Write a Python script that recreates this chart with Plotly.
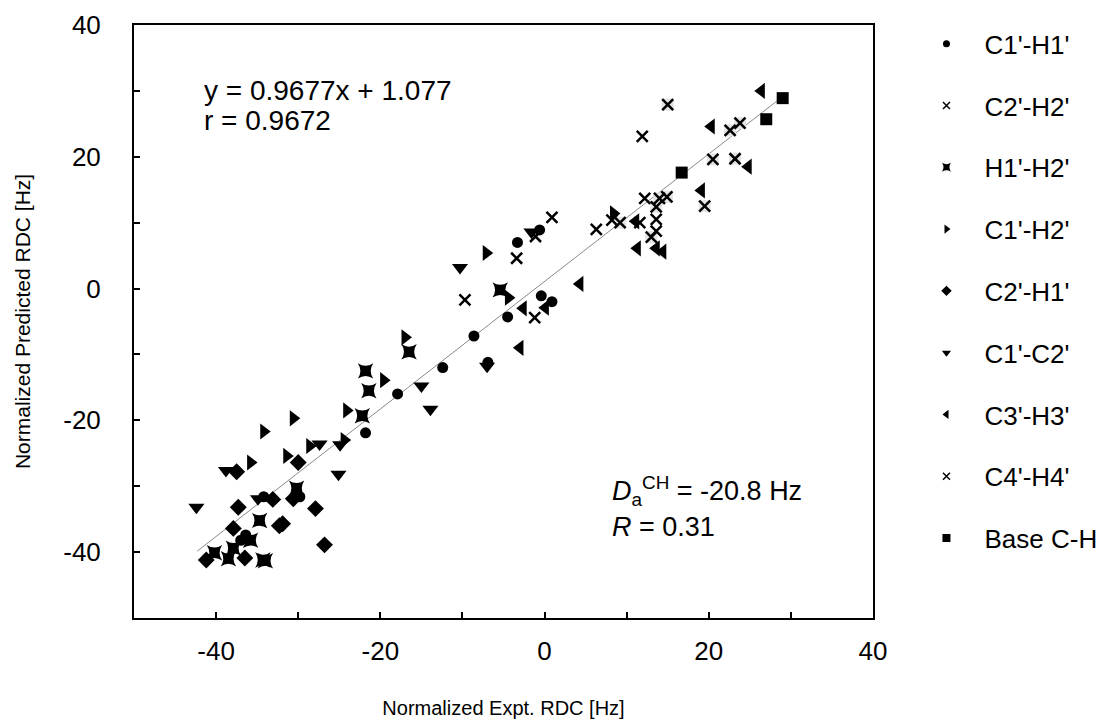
import plotly.graph_objects as go

# C1'-H1'
c1h1_x = [-17.9, -21.8, -34.2, -29.8, -37.0, -36.4, -0.6, -3.3, -0.4, 0.9, -4.5, -8.6, -6.9, -12.4]
c1h1_y = [-16.0, -21.9, -31.6, -31.6, -38.2, -37.4, 8.9, 7.0, -1.1, -2.0, -4.3, -7.2, -11.2, -12.0]
# C2'-H2'
c2h2_x = [11.9, 12.2, 8.2, 6.3, 13.6, 13.6, 0.9, -1.1, -3.4, -9.7, -1.2, 11.6]
c2h2_y = [23.1, 13.7, 10.4, 9.0, 10.5, 8.7, 10.8, 7.9, 4.6, -1.7, -4.4, 10.0]
# H1'-H2'
h1h2_x = [-16.5, -21.8, -21.4, -22.2, -30.2, -34.7, -35.8, -37.9, -40.2, -38.5, -34.3, -34.0, -5.4]
h1h2_y = [-9.6, -12.5, -15.5, -19.3, -30.3, -35.2, -38.2, -39.4, -40.1, -41.0, -41.2, -41.3, -0.2]
# C1'-H2'
c1h2_x = [-17.0, -19.6, -24.1, -30.6, -34.2, -28.6, -24.4, -31.4, -35.8, 8.4, -7.1, -4.4]
c1h2_y = [-7.4, -13.9, -18.5, -19.7, -21.7, -23.9, -23.0, -25.4, -26.4, 11.4, 5.4, -1.4]
# C2'-H1'
c2h1_x = [-30.0, -37.5, -37.3, -33.1, -30.6, -27.9, -37.9, -32.3, -31.9, -26.8, -41.2, -36.5]
c2h1_y = [-26.4, -27.8, -33.2, -32.0, -31.9, -33.4, -36.4, -36.0, -35.7, -38.9, -41.2, -40.9]
# C1'-C2'
c1c2_x = [-27.4, -24.9, -25.1, -38.8, -42.4, -34.9, -1.6, -10.3, -7.0, -15.0, -13.9]
c1c2_y = [-23.6, -23.7, -28.2, -27.6, -33.2, -31.9, 8.6, 3.2, -11.8, -14.8, -18.3]
# C3'-H3'
c3h3_x = [-2.6, 0.1, 4.3, -3.0, 26.4, 20.3, 24.8, 19.1, 11.3, 13.6, 14.4, 11.1]
c3h3_y = [-3.0, -2.9, 0.7, -9.0, 30.0, 24.6, 18.5, 14.9, 6.1, 6.1, 5.6, 10.2]
# C4'-H4'
c4h4_x = [15.0, 23.8, 22.6, 20.5, 23.2, 14.9, 14.0, 19.5, 13.6, 9.2, 13.0]
c4h4_y = [27.9, 25.1, 24.0, 19.6, 19.7, 13.9, 13.7, 12.5, 12.4, 10.0, 7.8]
# Base C-H
base_x = [29.0, 27.0, 16.7]
base_y = [28.9, 25.7, 17.6]

slope, intercept = 0.9677, 1.077
fit_x = [-42.3, 29.5]

tick_vals = [-40, -20, 0, 20, 40]
tick_text = ["-40", "-20", "0", "20", "40"]

FONT = "Liberation Sans, Arial, sans-serif"

series = [
    ("C1'-H1'", c1h1_x, c1h1_y, dict(symbol="circle", size=11, color="black"), 7),
    ("C2'-H2'", c2h2_x, c2h2_y, dict(symbol="x-thin", size=11, line=dict(width=2.5, color="black")), 7),
    ("H1'-H2'", h1h2_x, h1h2_y, dict(symbol="star-square", size=14, color="black"), 8),
    ("C1'-H2'", c1h2_x, c1h2_y, dict(symbol="triangle-right", size=14, color="black"), 8),
    ("C2'-H1'", c2h1_x, c2h1_y, dict(symbol="diamond", size=13, color="black"), 8),
    ("C1'-C2'", c1c2_x, c1c2_y, dict(symbol="triangle-down", size=14, color="black"), 8),
    ("C3'-H3'", c3h3_x, c3h3_y, dict(symbol="triangle-left", size=14, color="black"), 8),
    ("C4'-H4'", c4h4_x, c4h4_y, dict(symbol="x-thin", size=11, line=dict(width=2.5, color="black")), 7),
    ("Base C-H", base_x, base_y, dict(symbol="square", size=12, color="black"), 8),
]

fig = go.Figure()

# fit line
fig.add_trace(go.Scatter(
    x=fit_x, y=[slope * v + intercept for v in fit_x], mode="lines",
    line=dict(color="#8a8a8a", width=1), showlegend=False, hoverinfo="skip"))

# light grey boxes behind the C4'-H4' crosses
fig.add_trace(go.Scatter(
    x=c4h4_x, y=c4h4_y, mode="markers", showlegend=False,
    marker=dict(symbol="square", size=12, color="#e4e4e4")))

for i, (name, xs, ys, mk, lsize) in enumerate(series):
    fig.add_trace(go.Scatter(x=xs, y=ys, mode="markers", marker=mk, showlegend=False, name=name))
    # legend proxy with small symbol
    lm = dict(mk)
    lm["size"] = lsize
    if "line" in lm:
        lm["line"] = dict(width=1.5, color="black")
    fig.add_trace(go.Scatter(x=[None], y=[None], mode="markers", marker=lm,
                             name=name, legendgroup=f"g{i}", showlegend=True))

fit_font = dict(size=28, color="black", family=FONT)
da_font = dict(size=27, color="black", family=FONT)
fig.add_annotation(x=-41.7, y=30.1, xref="x", yref="y", xanchor="left", showarrow=False,
                   text="y = 0.9677x + 1.077", font=fit_font)
fig.add_annotation(x=-41.7, y=25.5, xref="x", yref="y", xanchor="left", showarrow=False,
                   text="r = 0.9672", font=fit_font)
fig.add_annotation(x=8.0, y=-30.8, xref="x", yref="y", xanchor="left", showarrow=False,
                   text="<i>D</i><sub>a</sub><sup>CH</sup> = -20.8 Hz", font=da_font)
fig.add_annotation(x=8.0, y=-36.2, xref="x", yref="y", xanchor="left", showarrow=False,
                   text="<i>R</i> = 0.31", font=da_font)

axis_common = dict(
    showline=True, linecolor="black", linewidth=2, mirror=True,
    showgrid=False, zeroline=False, automargin=False,
    ticks="inside", ticklen=6, tickwidth=1.5, tickcolor="black",
    tickvals=tick_vals, ticktext=tick_text, ticklabeloverflow="allow",
    tickfont=dict(size=26, color="black", family=FONT),
    minor=dict(dtick=10, ticks="inside", ticklen=6, tickwidth=1.5, tickcolor="black"),
)

fig.update_xaxes(range=[-50, 40], ticklabelstandoff=9,
                 title=dict(text="Normalized Expt. RDC [Hz]", standoff=36,
                            font=dict(size=20, color="black", family=FONT)),
                 **axis_common)
fig.update_yaxes(range=[-50, 40], ticklabelstandoff=26,
                 title=dict(text="Normalized Predicted RDC [Hz]", standoff=27,
                            font=dict(size=21, color="black", family=FONT)),
                 **axis_common)

# the page body adds an 8px offset, so margins are shifted by that amount
fig.update_layout(
    width=1109, height=724,
    margin=dict(l=125.5, r=243.5, t=14.3, b=113.7),
    paper_bgcolor="white", plot_bgcolor="white",
    font=dict(family=FONT, color="black", size=26),
    legend=dict(x=1.048, y=1.008, xanchor="left", yanchor="top", tracegroupgap=25,
                itemwidth=66, maxheight=720, font=dict(size=26, family=FONT, color="black"),
                bgcolor="rgba(0,0,0,0)"),
)

fig.write_html("out.html")
